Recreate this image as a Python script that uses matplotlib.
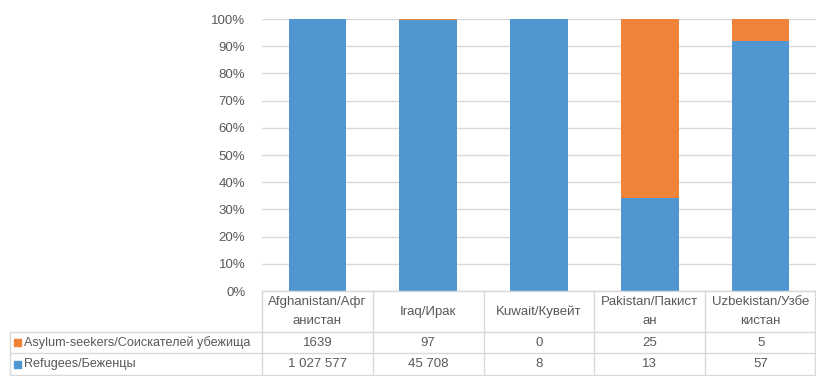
import matplotlib
matplotlib.use("Agg")
import matplotlib.pyplot as plt
import numpy as np
from matplotlib.lines import Line2D
from matplotlib.patches import Rectangle

plt.rcParams['font.family'] = ['Liberation Sans Narrow', 'Liberation Sans', 'DejaVu Sans']

# Данные
countries = ["Afghanistan/Афг\nанистан", "Iraq/Ирак", "Kuwait/Кувейт",
             "Pakistan/Пакист\nан", "Uzbekistan/Узбе\nкистан"]
asylum = [1639, 97, 0, 25, 5]
refugees = [1027577, 45708, 8, 13, 57]
series_names = ["Asylum-seekers/Соискателей убежища", "Refugees/Беженцы"]

blue = '#5097D1'
orange = '#F0833A'
grid_c = '#D9D9D9'
txt_c = '#595959'

W, H = 816, 376
fig = plt.figure(figsize=(W / 100, H / 100), dpi=100)

# пиксели -> координаты фигуры
def fx(px):
    return px / W

def fy(py):
    return 1 - py / H

ax_l, ax_r, ax_t, ax_b = 262, 816, 19, 291
ax = fig.add_axes([fx(ax_l), fy(ax_b), fx(ax_r) - fx(ax_l), fy(ax_t) - fy(ax_b)])

tot = np.array(asylum) + np.array(refugees)
p_ref = np.array(refugees) / tot
p_asy = np.array(asylum) / tot
x = np.arange(len(countries))
ax.bar(x, p_ref, width=0.52, color=blue, zorder=2)
ax.bar(x, p_asy, width=0.52, bottom=p_ref, color=orange, zorder=2)

ax.set_xlim(-0.5, len(countries) - 0.5)
ax.set_ylim(0, 1)
ax.set_yticks(np.arange(0, 1.01, 0.1))
ax.set_yticklabels([f"{int(round(v * 100))}%" for v in np.arange(0, 1.01, 0.1)])
ax.yaxis.grid(True, color=grid_c, linewidth=1, zorder=0)
ax.tick_params(axis='y', length=0, pad=12, labelsize=9.5, labelcolor=txt_c)
ax.set_xticks([])
for s in ax.spines.values():
    s.set_visible(False)

# Таблица данных
col_w = (ax_r - ax_l) / len(countries)
rows_y = [291, 332, 353, 375]
tab_left = 10

def hline(x0, x1, y):
    fig.add_artist(Line2D([fx(x0), fx(x1)], [fy(y), fy(y)], color=grid_c, lw=1))

def vline(xp, y0, y1):
    fig.add_artist(Line2D([fx(xp), fx(xp)], [fy(y0), fy(y1)], color=grid_c, lw=1))

hline(ax_l, ax_r, rows_y[0])
hline(tab_left, ax_r, rows_y[1])
hline(tab_left, ax_r, rows_y[2])
hline(tab_left, ax_r, rows_y[3])
vline(tab_left, rows_y[1], rows_y[3])
for i in range(len(countries)):
    vline(ax_l + i * col_w, rows_y[0], rows_y[3])
vline(ax_r - 1, rows_y[0], rows_y[3])

def fmt(v):
    return f"{v:,}".replace(",", " ") if v >= 10000 else str(v)

for i, name in enumerate(countries):
    cx = ax_l + (i + 0.5) * col_w
    fig.text(fx(cx), fy((rows_y[0] + rows_y[1]) / 2), name, ha='center', va='center',
             fontsize=9.5, color=txt_c, linespacing=1.75)
    fig.text(fx(cx), fy((rows_y[1] + rows_y[2]) / 2), fmt(asylum[i]), ha='center', va='center',
             fontsize=9.5, color=txt_c)
    fig.text(fx(cx), fy((rows_y[2] + rows_y[3]) / 2), fmt(refugees[i]), ha='center', va='center',
             fontsize=9.5, color=txt_c)

for j, (name, c) in enumerate(zip(series_names, [orange, blue])):
    yc = (rows_y[j + 1] + rows_y[j + 2]) / 2
    fig.add_artist(Rectangle((fx(tab_left + 4), fy(yc + 3.5)), 7 / W, 7 / H, color=c,
                             transform=fig.transFigure))
    fig.text(fx(tab_left + 14), fy(yc), name, ha='left', va='center', fontsize=9.1, color=txt_c)

fig.savefig("out.png", dpi=100)
